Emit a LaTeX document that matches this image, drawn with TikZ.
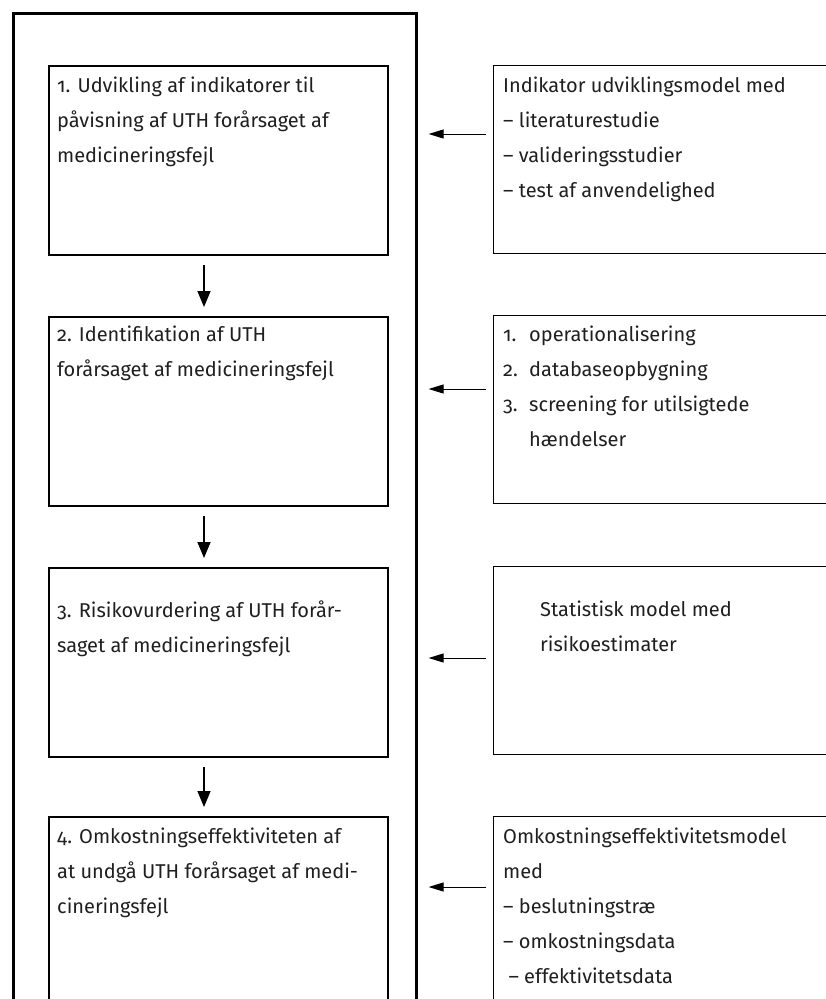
\documentclass[tikz,border=0pt]{standalone}
\usepackage{fontspec}
\setmainfont{Fira Sans}[Numbers=OldStyle]
\usetikzlibrary{arrows.meta,calc}
\newcommand{\numitem}[1]{\makebox[26pt][l]{#1}}
\tikzset{
  outerbox/.style={draw, line width=2.6pt, minimum width=403pt, minimum height=1100pt, anchor=north west, inner sep=0pt},
  lbox/.style={draw, line width=2.4pt, minimum width=339pt, minimum height=189pt, anchor=north west, inner sep=0pt},
  rbox/.style={draw, line width=1pt, minimum width=420pt, minimum height=188pt, anchor=north west, inner sep=0pt},
  txt/.style={anchor=north west, inner sep=0pt, align=left, font=\fontsize{20}{35}\selectfont, text=black!88},
  varrow/.style={line width=1.6pt, -{Triangle[length=16pt,width=13pt]}, shorten <=9pt, shorten >=9pt},
  harrow/.style={line width=1pt, -{Triangle[length=15pt,width=9pt]}, shorten <=7pt, shorten >=11pt}
}
\begin{document}
\begin{tikzpicture}[x=1pt,y=-1pt]
\useasboundingbox (0,0) rectangle (826,999);
\clip (0,0) rectangle (826,999);
\node[outerbox] (outer) at (12,12) {};
\node[lbox] (b1) at (48,65) {};
\node[lbox] (b2) at (48,316) {};
\node[lbox] (b3) at (48,567) {};
\node[lbox, minimum height=300pt] (b4) at (48,816) {};
\node[rbox] (r1) at (493,65) {};
\node[rbox] (r2) at (493,315) {};
\node[rbox] (r3) at (493,566) {};
\node[rbox, minimum height=300pt] (r4) at (493,816) {};
\node[txt] (t1) at (57,77) {1. Udvikling af indikatorer til\\påvisning af UTH forårsaget af\\medicineringsfejl};
\node[txt] (t2) at (57,326) {2. Identifikation af UTH\\forårsaget af medicineringsfejl};
\node[txt] (t3) at (57,601) {3. Risikovurdering af UTH forår-\\saget af medicineringsfejl};
\node[txt] (t4) at (57,828) {4. Omkostningseffektiviteten af\\at undgå UTH forårsaget af medi-\\cineringsfejl};
\node[txt] (s1) at (503,77) {Indikator udviklingsmodel med\\– literaturestudie\\– valideringsstudier\\– test af anvendelighed};
\node[txt] (s2) at (503,326) {\numitem{1.}operationalisering\\\numitem{2.}databaseopbygning\\\numitem{3.}screening for utilsigtede\\\numitem{}hændelser};
\node[txt] (s3) at (540,601) {Statistisk model med\\risikoestimater};
\node[txt] (s4) at (503,828) {Omkostningseffektivitetsmodel\\med\\– beslutningstræ\\– omkostningsdata\\\ – effektivitetsdata};
\coordinate (ax) at (204,0);
\draw[varrow] (b1.south -| ax) -- (b2.north -| ax);
\draw[varrow] (b2.south -| ax) -- (b3.north -| ax);
\draw[varrow] (b3.south -| ax) -- (b4.north -| ax);
\coordinate (h1) at (493,134);
\coordinate (h2) at (493,389);
\coordinate (h3) at (493,658);
\coordinate (h4) at (493,887);
\draw[harrow] (h1) -- (h1 -| outer.east);
\draw[harrow] (h2) -- (h2 -| outer.east);
\draw[harrow] (h3) -- (h3 -| outer.east);
\draw[harrow] (h4) -- (h4 -| outer.east);
\end{tikzpicture}
\end{document}
